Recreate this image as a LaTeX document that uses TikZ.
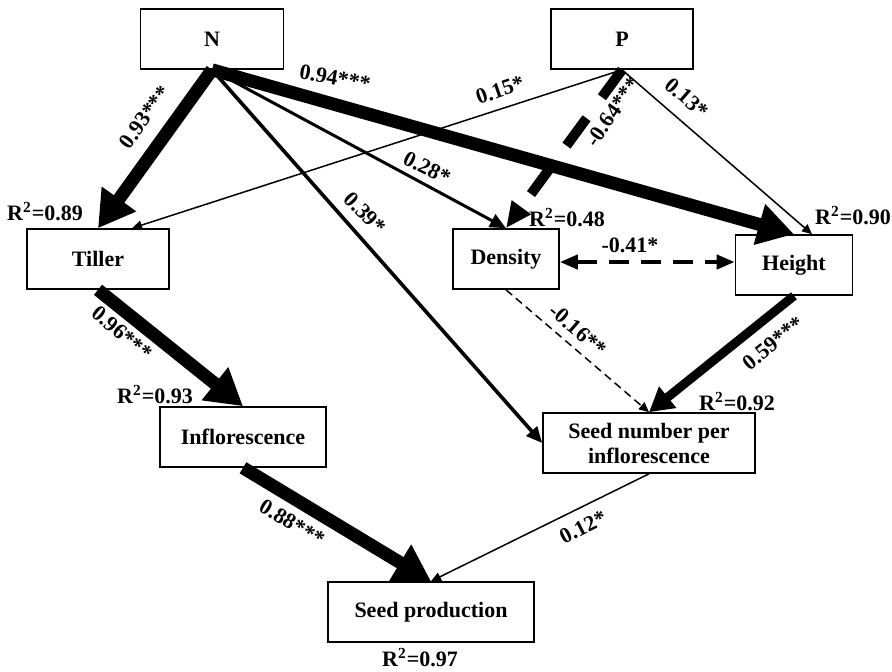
\documentclass[tikz,border=0pt]{standalone}
\usepackage{fontspec}
\setmainfont{Liberation Serif}
\usetikzlibrary{arrows.meta}

\begin{document}
\begin{tikzpicture}[x=0.5pt,y=-0.5pt,
	box/.style={draw,line width=0.8pt,inner sep=0pt,minimum height=30pt,align=center,font=\bfseries\fontsize{11}{12.5}\selectfont},
	coef/.style={font=\bfseries\fontsize{11}{13}\selectfont,inner sep=1pt},
	rsq/.style={font=\bfseries\fontsize{11}{13}\selectfont,inner sep=1pt},
	big path/.style={line width=6.5pt,-{Triangle[length=18pt,width=20pt]}},
	mid path/.style={line width=1.8pt,-{Triangle[length=8pt,width=7pt]}},
	thin path/.style={line width=0.75pt,-{Triangle[length=5pt,width=4.5pt]}}
]
	\useasboundingbox (0,0) rectangle (892,671);

	% boxes
	\node[box,minimum width=71.5pt] (N) at (212,39) {N};
	\node[box,minimum width=71pt] (P) at (622,39) {P};
	\node[box,minimum width=71pt] (tiller) at (98,259) {Tiller};
	\node[box,minimum width=53pt] (density) at (506,259) {Density};
	\node[box,minimum width=58.5pt] (height) at (794,265) {Height};
	\node[box,minimum width=83pt] (infl) at (243,437) {Inflorescence};
	\node[box,minimum width=106pt] (seednum) at (649,443) {Seed number per\\inflorescence};
	\node[box,minimum width=103pt] (seedprod) at (431,612) {Seed production};

	% paths
	\draw[thin path] (P.south) -- ([xshift=17pt]tiller.north);
	\draw[thin path] (P.south) -- ([xshift=9pt]height.north);
	\draw[thin path] (seednum.south) -- (seedprod.north);
	\draw[thin path,dash pattern=on 4pt off 2.5pt] (density.south) -- (seednum.north);
	\draw[mid path,line width=1.5pt] (N.south) -- (density.north);
	\draw[mid path] (N.south) -- (seednum.west);
	\draw[big path] (N.south) -- (tiller.north);
	\draw[big path] (N.south) -- (height.north);
	\draw[big path] (tiller.south) -- (infl.north);
	\draw[big path] (infl.south) -- (seedprod.north);
	\draw[line width=4.5pt,-{Triangle[length=12pt,width=13pt]}] (height.south) -- (seednum.north);
	\draw[line width=5pt,dash pattern=on 17pt off 13pt,-{Triangle[length=13pt,width=11pt]}] (P.south) -- (density.north);
	\draw[line width=2pt,dash pattern=on 10pt off 6pt,{Triangle[length=9pt,width=7pt]}-{Triangle[length=9pt,width=7pt]}]
		([yshift=-1.5pt]density.east) -- ([yshift=-1.5pt]density.east -| height.west);

	% coefficients
	\node[coef,rotate=54] (cNT) at (145,117) {0.93***};
	\node[coef,rotate=-10] (cNH) at (335,78) {0.94***};
	\node[coef,rotate=-27] (cND) at (427,168) {0.28*};
	\node[coef,rotate=-46] (cNS) at (365,213) {0.39*};
	\node[coef,rotate=19] (cPT) at (500,90) {0.15*};
	\node[coef,rotate=55] (cPD) at (613,112) {-0.64***};
	\node[coef,rotate=-41] (cPH) at (687,98) {0.13*};
	\node[coef] (cDH) at (630,245) {-0.41*};
	\node[coef,rotate=-41] (cDS) at (578,330) {-0.16**};
	\node[coef,rotate=39] (cHS) at (773,343) {0.59***};
	\node[coef,rotate=-40] (cTI) at (122,333) {0.96***};
	\node[coef,rotate=-31] (cIS) at (292,523) {0.88***};
	\node[coef,rotate=27] (cSS) at (583,527) {0.12*};

	% explained variance
	\node[rsq] (rT) at (45,212) {R\textsuperscript{2}=0.89};
	\node[rsq] (rD) at (567,218) {R\textsuperscript{2}=0.48};
	\node[rsq] (rH) at (853,216) {R\textsuperscript{2}=0.90};
	\node[rsq] (rI) at (155,395) {R\textsuperscript{2}=0.93};
	\node[rsq] (rS) at (737,402) {R\textsuperscript{2}=0.92};
	\node[rsq] (rP) at (420,658) {R\textsuperscript{2}=0.97};
\end{tikzpicture}
\end{document}
